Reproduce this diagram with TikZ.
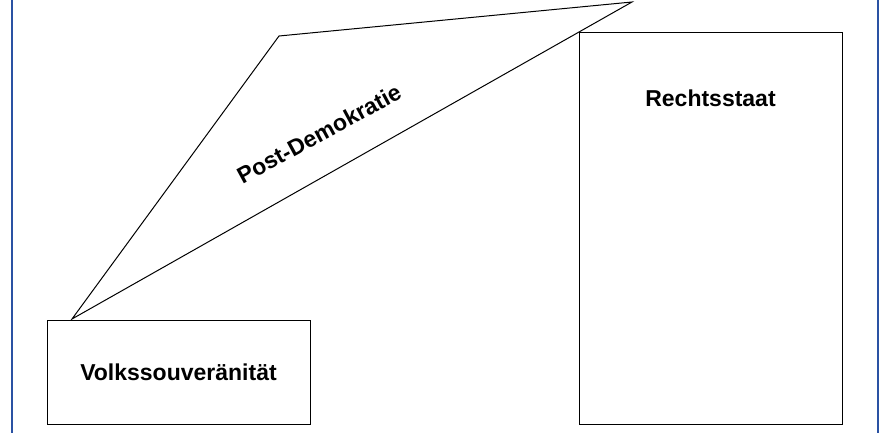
\documentclass[tikz,border=0pt]{standalone}
\usepackage{fontspec}
\setmainfont{Liberation Sans}
\definecolor{frameblue}{RGB}{42,82,163}

\begin{document}
\begin{tikzpicture}[
x=1pt, y=-1pt,
boxnode/.style={rectangle, draw=black, line width=1pt, minimum width=263pt, inner sep=0pt},
labelnode/.style={font=\fontsize{23}{27}\selectfont\bfseries, inner sep=0pt},
]
\useasboundingbox (0,0) rectangle (882,433);

%Frame
\draw[frameblue, line width=2pt] (11.5,0) -- (11.5,433);
\draw[frameblue, line width=2pt] (878,0) -- (878,433);

%Nodes
\node[boxnode, minimum height=104pt] (volk) at (178.5,372) {};
\node[labelnode] (volk_label) at (volk.center) {Volkssouveränität};
\node[boxnode, minimum height=391pt] (recht) at (710.5,228.5) {};
\node[labelnode] (recht_label) at (710.5,98) {Rechtsstaat};

\coordinate (tip) at (72,319);
\coordinate (left_top) at (279,36);
\coordinate (right_top) at (632,2);
\node[labelnode, rotate=28.5] (post) at (319,134) {Post-Demokratie};

%Lines
\draw[line width=1pt, line join=miter] (tip) -- (left_top) -- (right_top) -- cycle;

\end{tikzpicture}
\end{document}
